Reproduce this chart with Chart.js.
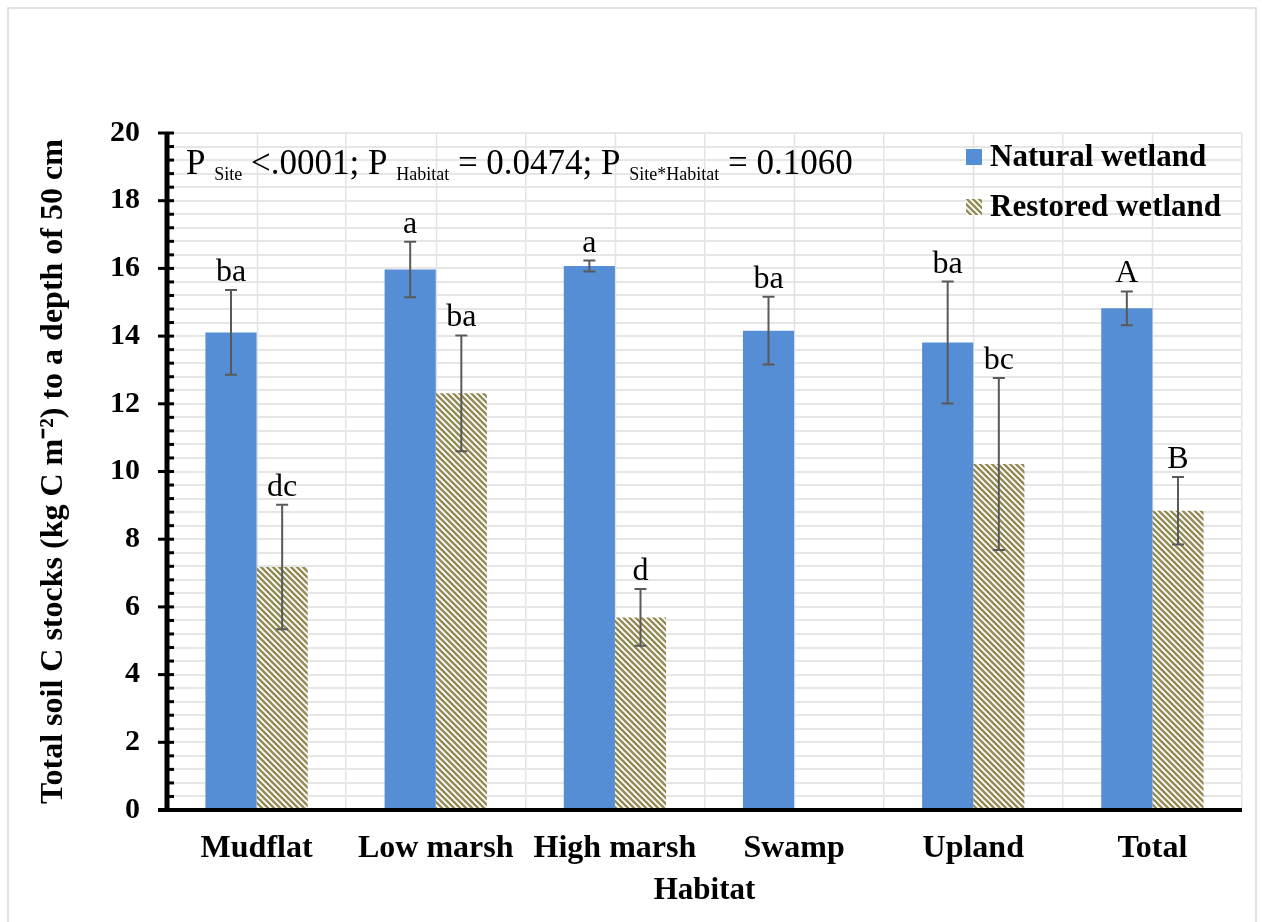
<!DOCTYPE html>
<html>
<head>
<meta charset="utf-8">
<script src="https://cdn.jsdelivr.net/npm/chart.js@4.4.0/dist/chart.umd.min.js"></script>
<style>
html, body { margin: 0; padding: 0; background: #fff; overflow: hidden; }
#wrap { position: relative; width: 1262px; height: 922px; }
</style>
</head>
<body>
<div id="wrap"><canvas id="chart" width="1262" height="922"></canvas></div>
<script>
// data
var habitats = ["Mudflat", "Low marsh", "High marsh", "Swamp", "Upland", "Total"]
var naturalMean = [14.11, 15.97, 16.07, 14.16, 13.81, 14.82]
var naturalErr = [1.25, 0.82, 0.16, 1.0, 1.8, 0.5]
var restoredMean = [7.18, 12.31, 5.69, null, 10.22, 8.84]
var restoredErr = [1.84, 1.71, 0.84, null, 2.54, 1.0]
var naturalLetters = ["ba", "a", "a", "ba", "ba", "A"]
var restoredLetters = ["dc", "ba", "d", "", "bc", "B"]
var yMin = 0, yMax = 20, yMajor = 2, yMinor = 0.4
var pText = [["P ", 0], ["Site", 1], [" <.0001; P ", 0], ["Habitat", 1], [" = 0.0474; P ", 0], ["Site*Habitat", 1], [" = 0.1060", 0]]

var SERIF = "'Liberation Serif', 'Times New Roman', serif"
var BLUE = "#558ED5"
var OLIVE = "#948A54"

function stripes(color){
  var c = document.createElement('canvas')
  c.width = 6; c.height = 6
  var g = c.getContext('2d')
  g.fillStyle = '#fff'
  g.fillRect(0, 0, 6, 6)
  g.strokeStyle = color
  g.lineWidth = 2.4
  g.beginPath()
  g.moveTo(-2, -2); g.lineTo(8, 8)
  g.moveTo(-5, 1); g.lineTo(3, 9)
  g.moveTo(1, -5); g.lineTo(9, 3)
  g.stroke()
  return g.createPattern(c, 'repeat')
}
var ctx = document.getElementById("chart").getContext('2d')
var hatch = stripes(OLIVE)

var extras = {
  id: 'extras',
  beforeDraw: function(chart){
    var c = chart.ctx
    c.save()
    c.fillStyle = '#fff'
    c.fillRect(0, 0, chart.width, chart.height)
    c.strokeStyle = '#d9d9d9'
    c.lineWidth = 1.5
    c.strokeRect(8, 8, 1248, 940)
    c.restore()
  },
  beforeDatasetsDraw: function(chart){
    // extra vertical gridlines through the category centres
    var c = chart.ctx, a = chart.chartArea, xs = chart.scales.x
    c.save()
    c.strokeStyle = '#e3e3e3'
    c.lineWidth = 1.5
    habitats.forEach(function(h, i){
      var px = Math.round(xs.getPixelForValue(i)) + 0.5
      c.beginPath(); c.moveTo(px, a.top); c.lineTo(px, a.bottom); c.stroke()
    })
    c.restore()
  },
  afterDatasetsDraw: function(chart){
    var c = chart.ctx, a = chart.chartArea, ys = chart.scales.y
    var errs = [naturalErr, restoredErr]
    var letters = [naturalLetters, restoredLetters]
    c.save()
    // error bars + letters
    chart.data.datasets.forEach(function(ds, d){
      var meta = chart.getDatasetMeta(d)
      meta.data.forEach(function(bar, i){
        var v = ds.data[i]
        if (v == null) return
        var e = errs[d][i]
        var top = ys.getPixelForValue(v + e), bot = ys.getPixelForValue(v - e)
        c.strokeStyle = '#595959'
        c.lineWidth = 2
        c.beginPath()
        c.moveTo(bar.x, top); c.lineTo(bar.x, bot)
        c.moveTo(bar.x - 6, top); c.lineTo(bar.x + 6, top)
        c.moveTo(bar.x - 6, bot); c.lineTo(bar.x + 6, bot)
        c.stroke()
        if (letters[d][i]) {
          c.fillStyle = '#000'
          c.font = "32px " + SERIF
          c.textAlign = 'center'
          c.textBaseline = 'alphabetic'
          c.fillText(letters[d][i], bar.x, top - 9)
        }
      })
    })
    // axis lines and tick marks
    c.fillStyle = '#000'
    c.fillRect(a.left - 9, a.bottom - 2, a.right - a.left + 9, 4)
    c.fillRect(a.left - 2.5, a.top, 5, a.bottom - a.top + 2)
    for (var k = 0; k <= Math.round((yMax - yMin) / yMinor); k++) {
      var val = yMin + k * yMinor
      var py = ys.getPixelForValue(val)
      var major = Math.abs(val / yMajor - Math.round(val / yMajor)) < 1e-6
      if (major) c.fillRect(a.left - 9, py - 1.5, 16, 3)
      else c.fillRect(a.left, py - 1.5, 7, 3)
    }
    // p-value line
    var x = 186, y = 174
    c.textAlign = 'left'
    c.textBaseline = 'alphabetic'
    pText.forEach(function(p){
      c.font = (p[1] ? "18px " : "35px ") + SERIF
      c.fillText(p[0], x, p[1] ? y + 6 : y)
      x += c.measureText(p[0]).width
    })
    // legend inside the plot
    var lx = 966, ly = [149, 199]
    chart.data.datasets.forEach(function(ds, d){
      c.fillStyle = ds.backgroundColor
      c.fillRect(lx, ly[d], 16, 16)
      c.fillStyle = '#000'
      c.font = "bold 31px " + SERIF
      c.fillText(ds.label, lx + 24, ly[d] + 17)
    })
    c.restore()
  }
}

var chart = new Chart(ctx, {
  type: 'bar',
  data: {
    labels: habitats,
    datasets: [
      { label: 'Natural wetland', data: naturalMean, backgroundColor: BLUE, categoryPercentage: 0.571, barPercentage: 1 },
      { label: 'Restored wetland', data: restoredMean, backgroundColor: hatch, categoryPercentage: 0.571, barPercentage: 1 }
    ]
  },
  options: {
    responsive: false,
    animation: false,
    layout: { padding: { top: 133, right: 20, left: 0, bottom: 0 } },
    plugins: { legend: { display: false }, tooltip: { enabled: false } },
    scales: {
      x: {
        grid: { offset: true, color: '#e3e3e3', lineWidth: 1.5, drawTicks: false },
        border: { display: false },
        ticks: { color: '#000', padding: 20, font: { family: SERIF, size: 32, weight: 'bold' } },
        title: { display: true, text: 'Habitat', color: '#000', padding: { top: 0, bottom: 12 }, font: { family: SERIF, size: 31, weight: 'bold' } },
        afterFit: function(s){ s.height = 112 }
      },
      y: {
        min: yMin, max: yMax,
        grid: { color: '#e6e6e6', lineWidth: 2, drawTicks: false },
        border: { display: false },
        ticks: {
          stepSize: yMinor, maxTicksLimit: 200, autoSkip: false, color: '#000', padding: 27,
          font: { family: SERIF, size: 30, weight: 'bold' },
          callback: function(v){ return Math.abs(v / yMajor - Math.round(v / yMajor)) < 1e-6 ? String(Math.round(v)) : '' }
        },
        title: { display: true, text: 'Total soil C stocks (kg C m\u207B\u00B2) to a depth of 50 cm', color: '#000', padding: { top: 35 }, font: { family: SERIF, size: 32, weight: 'bold' } },
        afterFit: function(s){ s.width = 167 }
      }
    }
  },
  plugins: [extras]
})
</script>
</body>
</html>
